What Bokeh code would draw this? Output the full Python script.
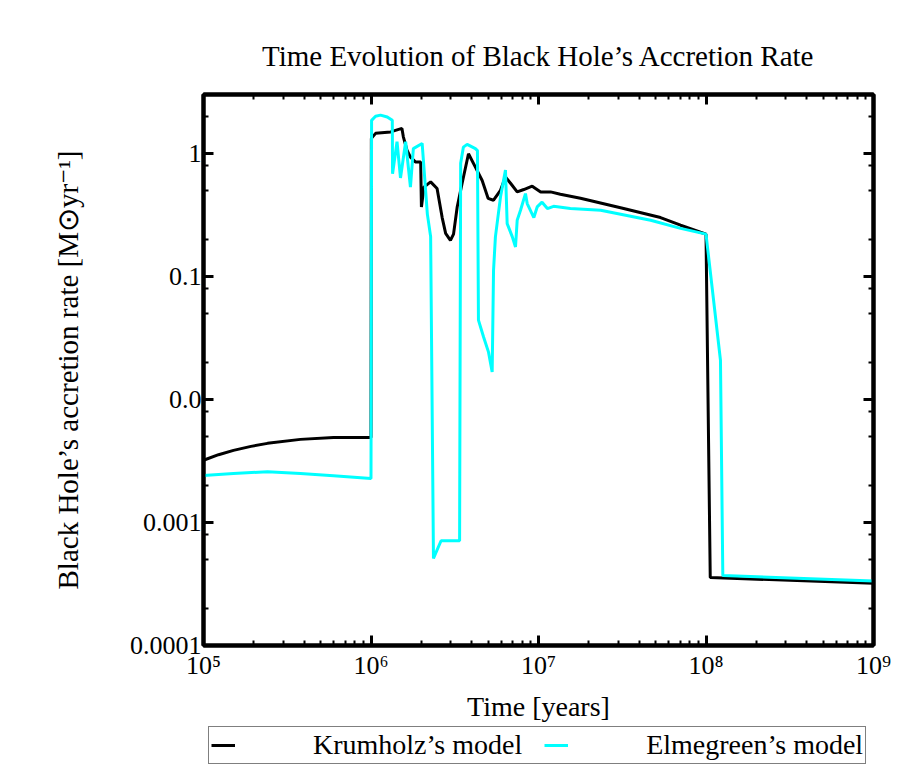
from bokeh.plotting import figure
from bokeh.models import (Range1d, LogAxis, FixedTicker, Legend, LegendItem)
from bokeh.layouts import column
from bokeh.embed import file_html
from bokeh.resources import INLINE

# ---------------- data ----------------
krum_t = [1.0e5, 1.23e5, 1.51e5, 1.92e5, 2.41e5, 3.79e5, 5.97e5,
          1.0e6, 1.005e6, 1.065e6, 1.31e6, 1.53e6,
          1.56e6, 1.64e6, 1.72e6, 1.84e6, 1.98e6,
          2.0e6, 2.07e6, 2.27e6, 2.48e6, 2.66e6,
          2.79e6, 2.98e6, 3.11e6, 3.27e6, 3.50e6,
          3.82e6, 4.20e6, 4.61e6, 5.0e6, 5.39e6,
          5.93e6, 6.35e6, 6.81e6, 7.46e6, 8.17e6,
          9.17e6, 1.03e7, 1.18e7, 1.35e7, 1.78e7,
          3.09e7, 5.35e7, 7.05e7, 9.27e7, 1.0e8,
          1.06e8, 1.0e9]
krum_rate = [3.2e-3, 3.55e-3, 3.85e-3, 4.15e-3, 4.39e-3, 4.73e-3, 4.9e-3,
             4.9e-3, 1.32, 1.45, 1.49, 1.59,
             1.36, 1.06, 0.93, 0.85, 0.85,
             0.366, 0.53, 0.585, 0.517, 0.30,
             0.223, 0.196, 0.22, 0.366, 0.57,
             0.99, 0.77, 0.60, 0.43, 0.415,
             0.50, 0.64, 0.57, 0.485, 0.507,
             0.54, 0.485, 0.485, 0.464, 0.43,
             0.36, 0.30, 0.26, 0.228, 0.22,
             3.57e-4, 3.2e-4]

elm_t = [1.0e5, 1.51e5, 2.41e5, 3.79e5, 5.97e5,
         1.0e6, 1.008e6, 1.065e6, 1.14e6, 1.25e6,
         1.34e6, 1.345e6, 1.43e6, 1.50e6, 1.61e6,
         1.72e6, 1.79e6, 2.02e6, 2.17e6, 2.27e6,
         2.36e6, 2.62e6, 3.38e6, 3.43e6, 3.56e6,
         3.75e6, 4.20e6, 4.32e6, 4.38e6, 4.70e6,
         5.03e6, 5.29e6, 5.39e6, 5.53e6, 5.93e6,
         6.35e6, 6.50e6, 6.97e6, 7.29e6, 7.46e6,
         7.81e6, 8.36e6, 8.56e6, 9.38e6, 9.82e6,
         1.05e7, 1.13e7, 1.23e7, 1.55e7, 2.35e7,
         4.67e7, 7.05e7, 1.0e8, 1.22e8, 1.26e8,
         1.0e9]
elm_rate = [2.41e-3, 2.5e-3, 2.58e-3, 2.5e-3, 2.39e-3,
            2.27e-3, 1.85, 2.0, 2.04, 1.97,
            1.85, 0.68, 1.24, 0.63, 1.24,
            0.53, 1.09, 1.2, 0.32, 0.21,
            5.1e-4, 7.1e-4, 7.1e-4, 0.83, 1.12,
            1.18, 1.09, 1.05, 0.044, 0.0321,
            0.0242, 0.0167, 0.112, 0.209, 0.44,
            0.73, 0.268, 0.21, 0.173, 0.285,
            0.344, 0.47, 0.39, 0.30, 0.366,
            0.40, 0.355, 0.37, 0.355, 0.344,
            0.285, 0.245, 0.22, 0.0208, 3.7e-4,
            3.35e-4]

series_labels = ["Krumholz\u2019s model", "Elmegreen\u2019s model"]
series_colors = ["black", "#00ffff"]

x_ticks = [1e5, 1e6, 1e7, 1e8, 1e9]
x_tick_labels = ["10\u2075", "10\u2076", "10\u2077", "10\u2078", "10\u2079"]
y_ticks = [1e-4, 1e-3, 1e-2, 1e-1, 1]
y_tick_labels = ["0.0001", "0.001", "0.0", "0.1", "1"]

title_text = "Time Evolution of Black Hole\u2019s Accretion Rate"
x_label = "Time [years]"
y_label = "Black Hole\u2019s accretion rate [M\u2299yr\u207b\u00b9]"

FONT = "Liberation Serif"

# ---------------- main figure ----------------
p = figure(width=901, height=724, x_axis_type="log", y_axis_type="log",
           x_range=Range1d(1e5, 1e9), y_range=Range1d(1e-4, 3.0),
           output_backend="svg", toolbar_location=None,
           min_border_left=203, min_border_right=28,
           min_border_top=94, min_border_bottom=79,
           background_fill_color="white", border_fill_color="white")

p.xgrid.visible = False
p.ygrid.visible = False
p.outline_line_color = "black"
p.outline_line_width = 4

x_minor = [m * 10.0 ** k for k in range(5, 9) for m in range(2, 10)]
y_minor = [m * 10.0 ** k for k in range(-4, 1) for m in (2, 5, 8) if m * 10.0 ** k < 3.0]


def style_axis(ax, ticks, minor):
    ax.ticker = FixedTicker(ticks=ticks, minor_ticks=minor)
    ax.axis_line_color = "black"
    ax.axis_line_width = 4
    ax.major_tick_in = 10
    ax.major_tick_out = 0
    ax.minor_tick_in = 5
    ax.minor_tick_out = 0
    ax.major_tick_line_width = 3
    ax.minor_tick_line_width = 2
    ax.major_tick_line_color = "black"
    ax.minor_tick_line_color = "black"


def hide_labels(ax, ticks):
    ax.major_label_overrides = {t: "" for t in ticks}
    ax.major_label_standoff = 0
    ax.major_label_text_font_size = "10px"


# bottom axis
xa = p.xaxis[0]
style_axis(xa, x_ticks, x_minor)
xa.major_label_overrides = {t: s for t, s in zip(x_ticks, x_tick_labels)}
xa.major_label_text_font = FONT
xa.major_label_text_font_size = "26px"
xa.major_label_text_color = "black"
xa.major_label_standoff = 5
xa.axis_label = x_label
xa.axis_label_text_font = FONT
xa.axis_label_text_font_size = "28px"
xa.axis_label_text_font_style = "normal"
xa.axis_label_text_color = "black"
xa.axis_label_standoff = 8

# left axis
ya = p.yaxis[0]
style_axis(ya, y_ticks, y_minor)
ya.major_label_overrides = {t: s for t, s in zip(y_ticks, y_tick_labels)}
ya.major_label_text_font = FONT
ya.major_label_text_font_size = "26px"
ya.major_label_text_color = "black"
ya.major_label_standoff = 2
ya.axis_label = y_label
ya.axis_label_text_font = FONT
ya.axis_label_text_font_size = "29px"
ya.axis_label_text_font_style = "normal"
ya.axis_label_text_color = "black"
ya.axis_label_standoff = 43

# top and right axes: ticks only
top = LogAxis()
style_axis(top, x_ticks, x_minor)
hide_labels(top, x_ticks)
p.add_layout(top, "above")

right = LogAxis()
style_axis(right, y_ticks, y_minor)
hide_labels(right, y_ticks)
p.add_layout(right, "right")

# title
p.title.text = title_text
p.title.align = "center"
p.title.text_font = FONT
p.title.text_font_size = "29px"
p.title.text_font_style = "normal"
p.title.text_color = "black"
p.title.standoff = 46

# lines
p.line(krum_t, krum_rate, line_color=series_colors[0], line_width=3)
p.line(elm_t, elm_rate, line_color=series_colors[1], line_width=3)

# ---------------- legend strip below the chart ----------------
lg = figure(width=901, height=40, x_range=Range1d(0, 1), y_range=Range1d(0, 1),
            output_backend="svg", toolbar_location=None,
            x_axis_location=None, y_axis_location=None,
            min_border_left=0, min_border_right=0, min_border_top=0, min_border_bottom=0,
            outline_line_color=None, background_fill_color="white",
            border_fill_color="white")
lg.xgrid.visible = False
lg.ygrid.visible = False
# the same series, outside this strip's view, only to key the legend
k1 = lg.line(krum_t, krum_rate, line_color=series_colors[0], line_width=3)
k2 = lg.line(elm_t, elm_rate, line_color=series_colors[1], line_width=3)

legend = Legend(items=[LegendItem(label=series_labels[0], renderers=[k1]),
                       LegendItem(label=series_labels[1], renderers=[k2])],
                orientation="horizontal", location=(5, 0),
                label_text_font=FONT, label_text_font_size="28px",
                label_text_color="black",
                label_standoff=78, glyph_width=24, glyph_height=20,
                label_height=20, spacing=22, padding=2, margin=0,
                border_line_color="black", border_line_width=1,
                background_fill_color="white", background_fill_alpha=1.0)
lg.add_layout(legend)

layout = column(p, lg, spacing=0)
open("out.html", "w").write(file_html(layout, INLINE))
